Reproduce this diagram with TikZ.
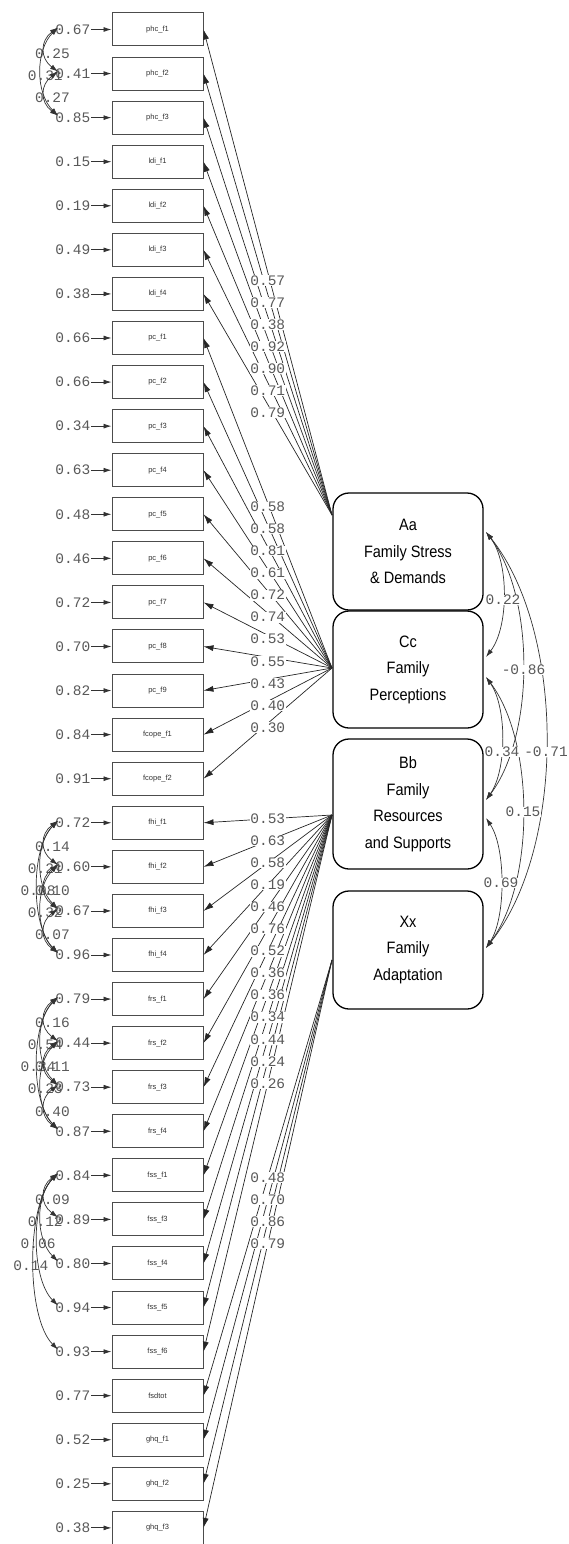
\documentclass[tikz,border=0pt]{standalone}
\usepackage{fontspec}
\setmainfont{Liberation Sans}
\newfontfamily\numfont{Liberation Mono}
\newfontfamily\latfont[FakeStretch=0.88]{Liberation Sans}
\usetikzlibrary{calc,arrows.meta}
\begin{document}
\begin{tikzpicture}[x=1pt,y=-1pt,
  obs/.style={draw=black!70, line width=1pt, minimum width=91pt, minimum height=33pt, inner sep=0pt, font=\fontsize{7.5}{8}\selectfont, text=black!80},
  lat/.style={draw=black, line width=1.3pt, rounded corners=16pt, minimum width=150pt, inner sep=0pt, align=center, font=\latfont\fontsize{16.5}{26.5}\selectfont},
  num/.style={font=\numfont\fontsize{14.5}{15}\selectfont, text=black!65, inner sep=0.5pt},
  lab/.style={num, fill=white, inner sep=0.5pt},
  ld/.style={draw=black!85, line width=0.7pt, -{Latex[length=10pt,width=6pt]}},
  err/.style={draw=black!80, line width=0.8pt, -{Latex[length=8pt,width=5pt]}},
  cov/.style={draw=black!80, line width=0.7pt, {Latex[length=8pt,width=5pt]}-{Latex[length=8pt,width=5pt]}},
]
\useasboundingbox (0,0) rectangle (568,1544);

% observed variables and error variances
\foreach \i/\nm/\ev in {
 0/phc\_f1/0.67, 1/phc\_f2/0.41, 2/phc\_f3/0.85, 3/ldi\_f1/0.15, 4/ldi\_f2/0.19, 5/ldi\_f3/0.49, 6/ldi\_f4/0.38,
 7/pc\_f1/0.66, 8/pc\_f2/0.66, 9/pc\_f3/0.34, 10/pc\_f4/0.63, 11/pc\_f5/0.48, 12/pc\_f6/0.46, 13/pc\_f7/0.72, 14/pc\_f8/0.70, 15/pc\_f9/0.82,
 16/fcope\_f1/0.84, 17/fcope\_f2/0.91, 18/fhi\_f1/0.72, 19/fhi\_f2/0.60, 20/fhi\_f3/0.67, 21/fhi\_f4/0.96,
 22/frs\_f1/0.79, 23/frs\_f2/0.44, 24/frs\_f3/0.73, 25/frs\_f4/0.87,
 26/fss\_f1/0.84, 27/fss\_f3/0.89, 28/fss\_f4/0.80, 29/fss\_f5/0.94, 30/fss\_f6/0.93,
 31/fsdtot/0.77, 32/ghq\_f1/0.52, 33/ghq\_f2/0.25, 34/ghq\_f3/0.38}
{
  \pgfmathsetmacro\yy{29.5+44.07*\i}
  \node[obs] (b\i) at (157.5,\yy) {\nm};
  \node[num, anchor=east] (e\i) at (91,\yy) {\ev};
  \coordinate (c\i) at (58,\yy-2);
  \draw[err] (e\i.east) -- (b\i.west);
}

% latent variables
\node[lat, minimum height=117pt] (Aa) at (408,551.5) {Aa\\Family Stress\\\& Demands};
\node[lat, minimum height=117pt] (Cc) at (408,669.5) {Cc\\Family\\Perceptions};
\node[lat, minimum height=130pt] (Bb) at (408,804) {Bb\\Family\\Resources\\and Supports};
\node[lat, minimum height=118pt] (Xx) at (408,950) {Xx\\Family\\Adaptation};

% loading sources
\coordinate (sA) at (332,515);
\coordinate (sC) at (332,668);
\coordinate (sB) at (332,815);
\coordinate (sX) at (332,960);
\coordinate (lA) at (332,531);
\coordinate (lC) at (332,676);
\coordinate (lB) at (332,815);
\coordinate (lX) at (332,959);

\def\loadlist{0/0.57/sA/lA,1/0.77/sA/lA,2/0.38/sA/lA,3/0.92/sA/lA,4/0.90/sA/lA,5/0.71/sA/lA,6/0.79/sA/lA,
 7/0.58/sC/lC,8/0.58/sC/lC,9/0.81/sC/lC,10/0.61/sC/lC,11/0.72/sC/lC,12/0.74/sC/lC,13/0.53/sC/lC,14/0.55/sC/lC,15/0.43/sC/lC,16/0.40/sC/lC,17/0.30/sC/lC,
 18/0.53/sB/lB,19/0.63/sB/lB,20/0.58/sB/lB,21/0.19/sB/lB,22/0.46/sB/lB,23/0.76/sB/lB,24/0.52/sB/lB,25/0.36/sB/lB,26/0.36/sB/lB,27/0.34/sB/lB,28/0.44/sB/lB,29/0.24/sB/lB,30/0.26/sB/lB,
 31/0.48/sX/lX,32/0.70/sX/lX,33/0.86/sX/lX,34/0.79/sX/lX}
\foreach \i/\v/\src/\lsrc in \loadlist { \draw[ld] (\src) -- (b\i.east); }
\foreach \i/\v/\src/\lsrc in \loadlist { \node[lab] at ($(b\i.east)!0.5!(\lsrc)$) {\v}; }

% error covariances (left)
\foreach \i/\j/\v in {0/1/0.25, 0/2/0.31, 1/2/0.27,
  18/19/0.14, 18/20/0.21, 18/21/0.08, 19/20/0.10, 19/21/0.32, 20/21/0.07,
  22/23/0.16, 22/24/0.54, 22/25/0.34, 23/24/0.11, 23/25/0.23, 24/25/0.40,
  26/27/0.09, 26/28/0.12, 26/29/0.06, 26/30/0.14}
{
  \pgfmathsetmacro\kk{\j-\i}
  \pgfmathsetmacro\cdx{(10+3.5*\kk)/0.75}
  \pgfmathsetmacro\csy{min(\cdx,44.07*\kk*0.3)}
  \draw[cov] (c\i) .. controls ($(c\i)+(-\cdx,\csy)$) and ($(c\j)+(-\cdx,-\csy)$) .. (c\j);
  \pgfmathsetmacro\labx{52.5-7.2*(\kk-1)}
  \pgfmathsetmacro\laby{29.5+44.07*(\i+\j)/2+2}
  \node[num] at (\labx,\laby) {\v};
}

% latent covariances (right)
\coordinate (rA) at (486,532);
\coordinate (rC1) at (486,657);
\coordinate (rC2) at (486,677);
\coordinate (rB1) at (486,800);
\coordinate (rB2) at (486,818);
\coordinate (rX) at (486,948);
\draw[cov] (rA) .. controls ($(rA)+(23,30)$) and ($(rC1)+(23,-30)$) .. (rC1);
\draw[cov] (rA) .. controls ($(rA)+(49,65)$) and ($(rB1)+(49,-65)$) .. (rB1);
\draw[cov] (rA) .. controls ($(rA)+(80,100)$) and ($(rX)+(80,-100)$) .. (rX);
\draw[cov] (rC2) .. controls ($(rC2)+(21,30)$) and ($(rB1)+(21,-30)$) .. (rB1);
\draw[cov] (rC2) .. controls ($(rC2)+(49,65)$) and ($(rX)+(49,-65)$) .. (rX);
\draw[cov] (rB2) .. controls ($(rB2)+(20,30)$) and ($(rX)+(20,-30)$) .. (rX);
\node[lab] at (503,600) {0.22};
\node[lab] at (523.5,670) {-0.86};
\node[lab] at (546,752) {-0.71};
\node[lab] at (502,752) {0.34};
\node[lab] at (523,812) {0.15};
\node[lab] at (501,883) {0.69};
\end{tikzpicture}
\end{document}
